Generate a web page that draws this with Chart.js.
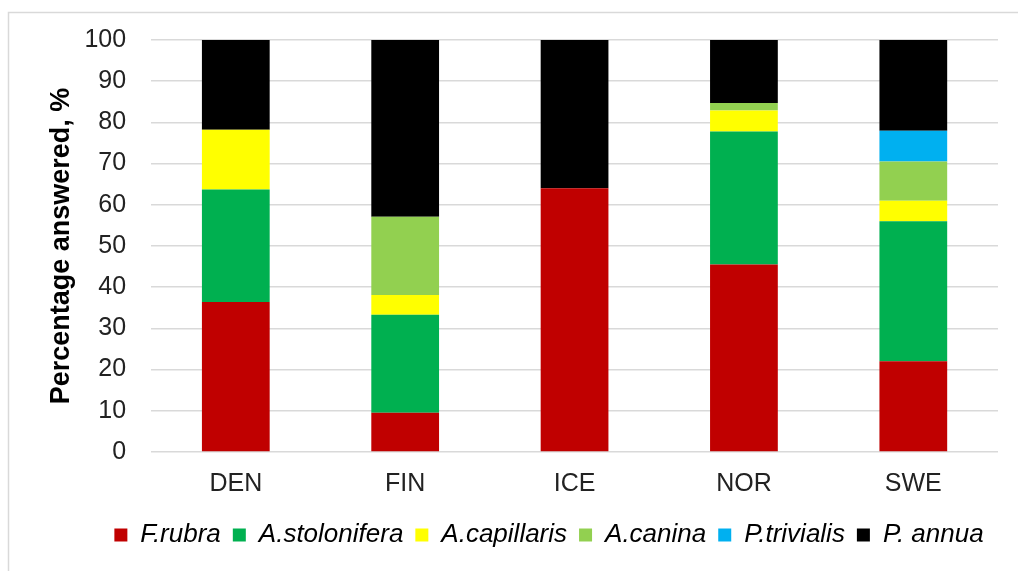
<!DOCTYPE html>
<html>
<head>
<meta charset="utf-8">
<script src="https://cdn.jsdelivr.net/npm/chart.js@4.4.1/dist/chart.umd.min.js"></script>
<style>
  html, body { margin: 0; padding: 0; background: #fff; overflow: hidden; }
  canvas { display: block; }
</style>
</head>
<body>
<canvas id="chart" width="1018" height="571"></canvas>
<script>
// Countries surveyed
const categories = ['DEN', 'FIN', 'ICE', 'NOR', 'SWE'];

// Share of answers per grass species, % (stacked to 100)
const fRubra       = [36.4,  9.5, 64.0, 45.5, 22.0];
const aStolonifera = [27.3, 23.8,  0.0, 32.3, 34.0];
const aCapillaris  = [14.5,  4.8,  0.0,  5.1,  5.0];
const aCanina      = [ 0.0, 19.0,  0.0,  1.8,  9.5];
const pTrivialis   = [ 0.0,  0.0,  0.0,  0.0,  7.5];
const pAnnua       = [21.8, 42.9, 36.0, 15.3, 22.0];

const seriesNames = ['F.rubra', 'A.stolonifera', 'A.capillaris', 'A.canina', 'P.trivialis', 'P. annua'];
const seriesColors = ['#C00000', '#00B050', '#FFFF00', '#92D050', '#00B0F0', '#000000'];
const seriesValues = [fRubra, aStolonifera, aCapillaris, aCanina, pTrivialis, pAnnua];

// Y axis tick labels
const yTicks = [0, 10, 20, 30, 40, 50, 60, 70, 80, 90, 100];
const yTitle = 'Percentage answered, %';

const FONT = '"Liberation Sans", Arial, sans-serif';
const Y_TICK_PAD = 25;
const X_TICK_PAD = 17;

// Light frame around the chart area
const framePlugin = {
  id: 'frame',
  beforeDraw(chart) {
    const ctx = chart.ctx;
    ctx.save();
    ctx.fillStyle = '#ffffff';
    ctx.fillRect(0, 0, chart.width, chart.height);
    ctx.strokeStyle = '#d9d9d9';
    ctx.lineWidth = 1.5;
    ctx.beginPath();
    ctx.moveTo(8.5, chart.height + 2);
    ctx.lineTo(8.5, 12.5);
    ctx.lineTo(chart.width + 2, 12.5);
    ctx.stroke();
    ctx.restore();
  }
};

// Nudge the legend row to the right so it sits under the plot
const legendShift = {
  id: 'legendShift',
  afterLayout(chart) {
    if (chart.legend) {
      chart.legend.left += 29;
      chart.legend.right += 29;
    }
  }
};

new Chart(document.getElementById('chart'), {
  type: 'bar',
  data: {
    labels: categories,
    datasets: seriesNames.map((name, i) => ({
      label: name,
      data: seriesValues[i],
      backgroundColor: seriesColors[i],
      borderWidth: 0,
      categoryPercentage: 1.0,
      barPercentage: 0.4
    }))
  },
  options: {
    responsive: false,
    animation: false,
    layout: { padding: { top: 33.5, left: 42, right: 20, bottom: 13 } },
    plugins: {
      tooltip: { enabled: false },
      legend: {
        position: 'bottom',
        labels: {
          boxWidth: 13,
          boxHeight: 13,
          padding: 12,
          color: '#000',
          font: { family: FONT, size: 26, style: 'italic' }
        }
      }
    },
    scales: {
      x: {
        stacked: true,
        grid: { display: false, drawTicks: false },
        border: { display: false },
        ticks: {
          color: '#222',
          padding: X_TICK_PAD,
          font: { family: FONT, size: 25 }
        },
        // tick padding is counted on both sides of the labels; trim the far side
        afterFit(scale) { scale.height -= 6; }
      },
      y: {
        stacked: true,
        min: 0,
        max: 100,
        afterBuildTicks(scale) { scale.ticks = yTicks.map(v => ({ value: v })); },
        grid: { color: '#d9d9d9', lineWidth: 1.5, drawTicks: false },
        border: { display: false },
        ticks: {
          color: '#222',
          padding: Y_TICK_PAD,
          font: { family: FONT, size: 25 }
        },
        title: {
          display: true,
          text: yTitle,
          color: '#000',
          padding: { top: 3, bottom: 7 },
          font: { family: FONT, size: 27, weight: 'bold' }
        },
        afterFit(scale) { scale.width -= Y_TICK_PAD; }
      }
    }
  },
  plugins: [framePlugin, legendShift]
});
</script>
</body>
</html>
